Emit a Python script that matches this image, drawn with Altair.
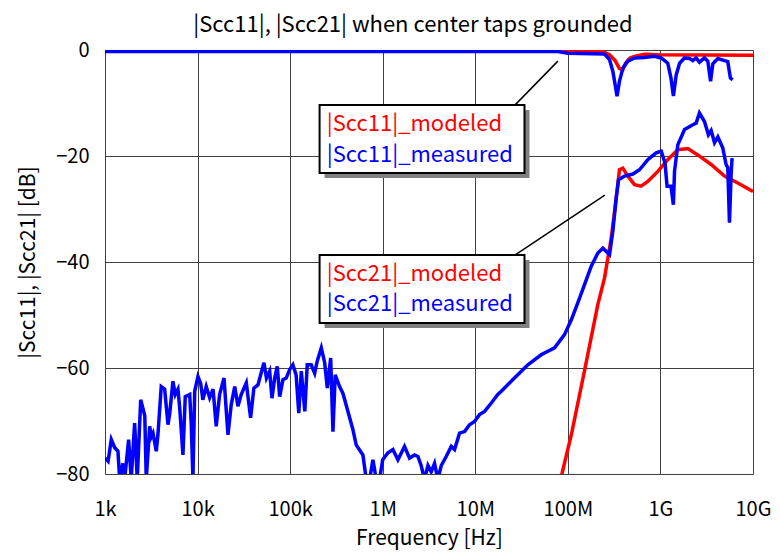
import altair as alt
import pandas as pd

FONT = "Noto Sans CJK JP"

# |Scc21| measured (blue)
s21_meas_f = [1.00e3, 1.08e3, 1.17e3, 1.27e3, 1.38e3, 1.44e3, 1.56e3, 1.63e3, 1.80e3, 1.92e3,
              2.09e3, 2.23e3, 2.43e3, 2.69e3, 2.79e3, 3.04e3, 3.16e3, 3.30e3, 3.58e3, 3.73e3,
              4.05e3, 4.41e3, 4.79e3, 5.00e3, 5.42e3, 5.74e3, 6.14e3, 6.41e3, 6.95e3, 7.36e3,
              8.22e3, 8.55e3, 8.91e3, 9.31e3, 1.01e4, 1.08e4, 1.14e4, 1.24e4, 1.35e4, 1.47e4,
              1.59e4, 1.73e4, 1.93e4, 2.13e4, 2.31e4, 2.52e4, 2.73e4, 2.96e4, 3.36e4, 3.74e4,
              4.06e4, 4.49e4, 4.87e4, 5.21e4, 5.55e4, 6.01e4, 6.36e4, 6.81e4, 7.26e4, 7.71e4,
              8.36e4, 9.08e4, 9.88e4, 1.07e5, 1.16e5, 1.24e5, 1.32e5, 1.44e5, 1.53e5, 1.69e5,
              1.84e5, 1.96e5, 2.17e5, 2.36e5, 2.52e5, 2.74e5, 2.90e5, 3.07e5, 3.42e5, 3.72e5,
              4.21e5, 4.76e5, 5.17e5, 6.11e5, 6.64e5, 7.22e5, 7.84e5, 8.51e5, 9.25e5, 1.00e6,
              1.14e6, 1.29e6, 1.46e6, 1.72e6, 1.95e6, 2.21e6, 2.40e6, 2.60e6, 2.83e6, 3.08e6,
              3.34e6, 3.63e6, 3.94e6, 4.29e6, 4.85e6, 5.50e6, 5.97e6, 6.76e6, 7.66e6, 8.67e6,
              9.82e6, 1.11e7, 1.26e7, 1.49e7, 1.75e7, 1.91e7, 2.65e7, 3.70e7, 5.15e7, 7.18e7,
              9.20e7, 1.09e8, 1.28e8, 1.51e8, 1.79e8, 2.11e8, 2.39e8, 2.82e8, 3.06e8, 3.33e8,
              3.53e8, 4.09e8, 5.04e8, 5.94e8, 7.31e8, 8.99e8, 1.02e9, 1.12e9, 1.18e9, 1.30e9,
              1.38e9, 1.42e9, 1.54e9, 1.82e9, 2.24e9, 2.43e9, 2.64e9, 2.99e9, 3.30e9, 3.53e9,
              3.84e9, 4.17e9, 4.72e9, 5.12e9, 5.34e9, 5.57e9, 5.80e9, 5.94e9]
s21_meas_db = [-77.0, -77.6, -73.5, -75.0, -75.7, -81.0, -78.0, -81.0, -73.5, -81.0,
               -70.4, -81.0, -66.0, -69.0, -81.0, -71.0, -73.0, -72.3, -75.7, -72.6,
               -63.5, -64.0, -70.7, -68.6, -62.5, -65.0, -64.0, -67.5, -76.4, -65.4,
               -65.0, -70.7, -81.0, -64.4, -61.6, -62.9, -66.0, -63.5, -65.6, -64.0,
               -71.0, -65.0, -61.9, -72.6, -66.9, -63.5, -67.2, -65.0, -62.8, -69.4,
               -63.8, -63.2, -60.9, -59.0, -61.9, -60.6, -65.7, -61.9, -59.7, -65.4,
               -62.2, -61.9, -60.3, -59.4, -61.3, -68.5, -60.6, -68.2, -59.4, -59.4,
               -61.0, -58.7, -56.2, -59.0, -63.8, -58.1, -72.0, -61.3, -63.5, -64.8,
               -68.2, -71.6, -74.5, -76.4, -81.0, -81.0, -77.3, -81.0, -81.0, -77.3,
               -76.0, -75.4, -77.3, -74.8, -77.0, -76.4, -76.7, -78.4, -81.0, -78.4,
               -79.6, -78.0, -81.0, -78.4, -76.7, -74.8, -75.4, -72.3, -72.0, -70.7,
               -70.1, -68.8, -68.2, -66.6, -65.0, -64.4, -61.9, -59.4, -57.5, -56.2,
               -53.7, -50.9, -47.7, -44.3, -40.8, -38.3, -37.4, -38.6, -34.2, -27.9,
               -24.5, -23.8, -23.4, -22.6, -20.7, -19.4, -19.1, -21.3, -25.7, -25.7,
               -29.2, -22.9, -17.9, -15.0, -14.1, -13.8, -11.9, -13.5, -16.0, -15.2,
               -17.5, -16.4, -18.5, -21.6, -22.2, -32.6, -23.5, -20.4]

# |Scc21| modeled (red)
s21_mod_f = [8.09e7, 1.09e8, 1.51e8, 2.11e8, 2.49e8, 2.94e8, 3.33e8, 3.61e8, 3.93e8, 4.45e8,
             5.25e8, 6.19e8, 7.31e8, 9.38e8, 1.20e9, 1.54e9, 1.98e9, 2.53e9, 3.53e9, 4.92e9,
             6.85e9, 1.00e10]
s21_mod_db = [-82.0, -72.6, -60.6, -48.0, -43.0, -35.5, -27.9, -22.6, -22.3, -23.8,
              -25.4, -25.7, -24.8, -22.9, -20.7, -18.8, -18.6, -19.8, -21.6, -23.8,
              -25.1, -26.7]

# |Scc11| modeled (red)
s11_mod_f = [1.00e3, 2.11e8, 2.39e8, 2.82e8, 3.24e8, 3.61e8, 3.93e8, 4.20e8, 4.70e8, 5.25e8,
             6.73e8, 9.38e8, 1.00e10]
s11_mod_db = [-0.1, -0.15, -0.3, -0.9, -2.0, -3.5, -3.7, -2.5, -1.5, -1.2,
              -0.8, -0.9, -1.0]

# |Scc11| measured (blue)
s11_meas_f = [1.00e3, 7.80e7, 1.00e8, 2.49e8, 2.82e8, 3.06e8, 3.24e8, 3.40e8, 3.61e8, 3.93e8,
              4.45e8, 5.25e8, 6.73e8, 8.63e8, 1.02e9, 1.20e9, 1.30e9, 1.38e9, 1.48e9, 1.61e9,
              1.82e9, 2.06e9, 2.24e9, 2.43e9, 2.64e9, 2.99e9, 3.25e9, 3.48e9, 3.68e9, 4.17e9,
              4.92e9, 5.34e9, 5.70e9, 6.04e9]
s11_meas_db = [-0.3, -0.3, -0.6, -0.75, -1.8, -4.0, -6.5, -8.7, -5.9, -3.4,
               -2.1, -1.5, -1.4, -1.2, -1.5, -2.5, -5.3, -8.7, -4.7, -2.5,
               -1.5, -1.6, -2.0, -1.5, -2.3, -1.5, -2.1, -5.9, -2.6, -1.6,
               -2.0, -2.2, -5.3, -5.6]

tick_values = [1e3, 1e4, 1e5, 1e6, 1e7, 1e8, 1e9, 1e10]
tick_labels = ["1k", "10k", "100k", "1M", "10M", "100M", "1G", "10G"]
y_ticks = [-80, -60, -40, -20, 0]

# annotation boxes
box_x1 = [2.08e5, 2.08e5]
box_x2 = [3.4e7, 3.4e7]
box_y1 = [-10.4, -38.7]
box_y2 = [-23.2, -51.5]
# leader lines
lead_x1 = [2.68e7, 2.68e7]
lead_y1 = [-10.4, -38.7]
lead_x2 = [7.8e7, 2.51e8]
lead_y2 = [-2.1, -27.4]
# labels
label_text = ["|Scc11|_modeled", "|Scc11|_measured", "|Scc21|_modeled", "|Scc21|_measured"]
label_color = ["red", "blue", "red", "blue"]
label_x = [2.49e5, 2.49e5, 2.49e5, 2.49e5]
label_y = [-15.3, -21.1, -43.5, -49.3]

label_expr = "{" + ",".join(f"'{int(v)}':'{t}'" for v, t in zip(tick_values, tick_labels)) + "}[toString(datum.value)]"

xscale = alt.Scale(type="log", domain=[1e3, 1e10], nice=False)
yscale = alt.Scale(domain=[-80, 0], nice=False)

xaxis = alt.Axis(values=tick_values, labelExpr=label_expr, title="Frequency [Hz]",
                 grid=True, gridColor="#404040", gridWidth=1, ticks=False, domain=False,
                 labelFont=FONT, labelFontSize=20, labelColor="black", labelPadding=25,
                 titleFont=FONT, titleFontSize=21, titleFontWeight="normal", titleColor="black",
                 titleY=53, labelFlush=False, labelOverlap=False)
yaxis = alt.Axis(values=y_ticks, title="|Scc11|, |Scc21| [dB]",
                 grid=True, gridColor="#404040", gridWidth=1, ticks=False, domain=False,
                 labelFont=FONT, labelFontSize=20, labelColor="black", labelPadding=16,
                 titleFont=FONT, titleFontSize=21, titleFontWeight="normal", titleColor="black",
                 titleX=-67, titleY=212)


def series(f, db):
    return pd.DataFrame({"f": f, "db": db})


def line(df, color):
    return alt.Chart(df).mark_line(color=color, strokeWidth=3.5, clip=True).encode(
        x=alt.X("f:Q", scale=xscale, axis=xaxis),
        y=alt.Y("db:Q", scale=yscale, axis=yaxis),
    )


base_layers = [
    line(series(s11_mod_f, s11_mod_db), "#ff0000"),
    line(series(s21_mod_f, s21_mod_db), "#ff0000"),
    line(series(s11_meas_f, s11_meas_db), "#0000ff"),
    line(series(s21_meas_f, s21_meas_db), "#0000ff"),
]

lead_df = pd.DataFrame({"x1": lead_x1, "y1": lead_y1, "x2": lead_x2, "y2": lead_y2})
leads = alt.Chart(lead_df).mark_rule(color="black", strokeWidth=1.5).encode(
    x=alt.X("x1:Q", scale=xscale), y=alt.Y("y1:Q", scale=yscale),
    x2="x2:Q", y2="y2:Q")

box_df = pd.DataFrame({"x1": box_x1, "x2": box_x2, "y1": box_y1, "y2": box_y2})
shadow = alt.Chart(box_df).mark_rect(color="#808080", xOffset=5, x2Offset=5, yOffset=5, y2Offset=5).encode(
    x=alt.X("x1:Q", scale=xscale), x2="x2:Q",
    y=alt.Y("y1:Q", scale=yscale), y2="y2:Q")
box = alt.Chart(box_df).mark_rect(fill="white", stroke="black", strokeWidth=2).encode(
    x=alt.X("x1:Q", scale=xscale), x2="x2:Q",
    y=alt.Y("y1:Q", scale=yscale), y2="y2:Q")

lab_df = pd.DataFrame({"t": label_text, "c": label_color, "x": label_x, "y": label_y})
labels = alt.Chart(lab_df).mark_text(align="left", baseline="alphabetic", font=FONT, fontSize=22).encode(
    x=alt.X("x:Q", scale=xscale), y=alt.Y("y:Q", scale=yscale),
    text="t:N", color=alt.Color("c:N", scale=None))

chart = alt.layer(*base_layers, leads, shadow, box, labels).properties(
    width=648, height=424,
    title=alt.TitleParams("|Scc11|, |Scc21| when center taps grounded", font=FONT, fontSize=22,
                          fontWeight="normal", color="black", dx=-16, offset=3),
    autosize=alt.AutoSizeParams(type="none"),
    padding={"left": 97, "top": 42, "right": 19, "bottom": 78},
).configure_view(stroke="black", strokeWidth=3.5).configure(background="white")

chart.save("out.html", embed_options={"renderer": "svg", "actions": False})
